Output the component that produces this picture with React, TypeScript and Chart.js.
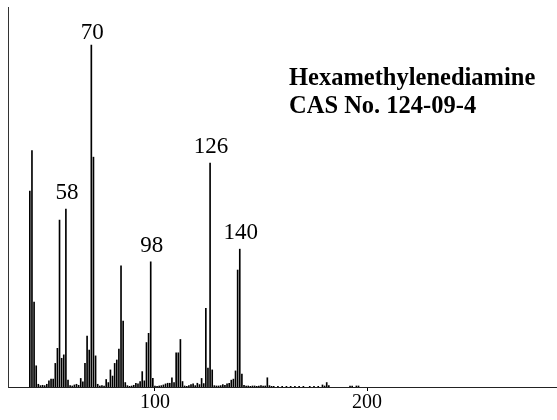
import React, { useEffect, useRef } from "react";
import { Chart, registerables } from "chart.js";

Chart.register(...registerables);

const MZ = [
  41, 42, 43, 44, 45, 46, 47, 48, 49, 50,
  51, 52, 53, 54, 55, 56, 57, 58, 59, 60,
  61, 62, 63, 64, 65, 66, 67, 68, 69, 70,
  71, 72, 73, 74, 75, 76, 77, 78, 79, 80,
  81, 82, 83, 84, 85, 86, 87, 88, 89, 90,
  91, 92, 93, 94, 95, 96, 97, 98, 99, 100,
  101, 102, 103, 104, 105, 106, 107, 108, 109, 110,
  111, 112, 113, 114, 115, 116, 117, 118, 119, 120,
  121, 122, 123, 124, 125, 126, 127, 128, 129, 130,
  131, 132, 133, 134, 135, 136, 137, 138, 139, 140,
  141, 142, 143, 144, 145, 146, 147, 148, 149, 150,
  151, 152, 153, 154, 155, 156, 158, 160, 162, 164,
  166, 168, 170, 173, 175, 177, 179, 180, 181, 182,
  192, 193, 195, 196,
];

const INTENSITY = [
  57.3, 69.1, 24.8, 6.2, 0.8, 0.4, 0.5, 0.4, 0.8, 1.8,
  2.3, 2.3, 6.9, 11.3, 48.8, 8.4, 9.4, 52.0, 2.0, 0.4,
  0.3, 0.6, 0.8, 0.5, 2.5, 1.5, 6.9, 14.9, 10.8, 100,
  67.2, 9.1, 0.8, 0.3, 0.4, 0.3, 2.2, 1.3, 5.0, 3.2,
  6.9, 7.9, 11.1, 35.4, 19.3, 1.3, 0.4, 0.2, 0.3, 0.5,
  1.1, 0.9, 1.6, 4.5, 1.8, 13.0, 15.7, 36.6, 2.5, 0.3,
  0.2, 0.3, 0.4, 0.6, 0.9, 1.1, 1.1, 2.7, 1.3, 10.0,
  10.0, 13.9, 1.6, 0.3, 0.2, 0.4, 0.7, 0.9, 0.4, 1.1,
  0.7, 2.5, 1.0, 23.0, 5.5, 65.5, 5.0, 0.4, 0.3, 0.3,
  0.4, 0.7, 0.5, 0.9, 1.1, 2.0, 2.3, 4.7, 34.2, 40.3,
  3.8, 0.5, 0.3, 0.3, 0.2, 0.3, 0.3, 0.2, 0.3, 0.4,
  0.3, 0.3, 2.7, 0.4, 0.2, 0.2, 0.2, 0.2, 0.2, 0.2,
  0.2, 0.2, 0.2, 0.2, 0.2, 0.2, 0.6, 0.3, 1.3, 0.4,
  0.3, 0.3, 0.3, 0.3,
];

const PEAK_LABELS = [58, 70, 98, 126, 140];
const TITLE_LINES = ["Hexamethylenediamine", "CAS No. 124-09-4"];
const X_TICKS = [100, 200];
const X_MIN = 30.7;
const X_MAX = 289.6;
const Y_MAX = 111.1;

export default function App() {
  const ref = useRef<HTMLCanvasElement>(null);

  useEffect(() => {
    const textPlugin = {
      id: "peakText",
      afterDatasetsDraw(chart: any) {
        const { ctx, scales, chartArea } = chart;
        const xs = scales.x;
        const ys = scales.y;
        ctx.save();
        ctx.fillStyle = "#000";
        ctx.font = "23px 'Liberation Serif'";
        ctx.textAlign = "center";
        ctx.textBaseline = "alphabetic";
        PEAK_LABELS.forEach((mz) => {
          const i = MZ.indexOf(mz);
          const px = xs.getPixelForValue(mz);
          const py = ys.getPixelForValue(INTENSITY[i]);
          const baseY = Math.max(py - 10, chartArea.top + 32);
          ctx.fillText(String(mz), px + 1, baseY);
        });
        ctx.font = "bold 24.5px 'Liberation Serif'";
        ctx.textAlign = "left";
        TITLE_LINES.forEach((t, k) => ctx.fillText(t, 289, 85 + k * 28));
        ctx.restore();
      },
    };

    const chart = new Chart(ref.current as HTMLCanvasElement, {
      type: "bar",
      data: {
        datasets: [
          {
            data: MZ.map((m, i) => ({ x: m, y: INTENSITY[i] })),
            backgroundColor: "#000",
            borderWidth: 0,
            barThickness: 1,
          } as any,
        ],
      },
      options: {
        animation: false,
        responsive: false,
        maintainAspectRatio: false,
        layout: { padding: { left: 8, top: 7, right: 0, bottom: 0 } },
        plugins: {
          legend: { display: false },
          tooltip: { enabled: false },
          title: { display: false },
        },
        scales: {
          x: {
            type: "linear",
            min: X_MIN,
            max: X_MAX,
            offset: false,
            afterBuildTicks: (s: any) => {
              s.ticks = X_TICKS.map((v) => ({ value: v }));
            },
            afterFit: (s: any) => {
              s.height = 33;
            },
            grid: {
              display: true,
              offset: false,
              drawOnChartArea: false,
              drawTicks: true,
              tickLength: 4,
              color: "#000",
              lineWidth: 1,
            },
            border: { display: true, color: "#222", width: 1 },
            ticks: {
              font: { family: "'Liberation Serif'", size: 20 },
              color: "#000",
              padding: 0,
              maxRotation: 0,
              autoSkip: false,
            },
          },
          y: {
            type: "linear",
            min: 0,
            max: Y_MAX,
            ticks: { display: false },
            grid: { display: false, drawTicks: false },
            border: { display: true, color: "#333", width: 1 },
            afterFit: (s: any) => {
              s.width = 0;
            },
          },
        },
      } as any,
      plugins: [textPlugin],
    });
    return () => chart.destroy();
  }, []);

  return (
    <div style={{ position: "fixed", left: 0, top: 0, width: 557, height: 420, background: "#fff" }}>
      <canvas ref={ref} width={557} height={420} style={{ display: "block" }} />
    </div>
  );
}
